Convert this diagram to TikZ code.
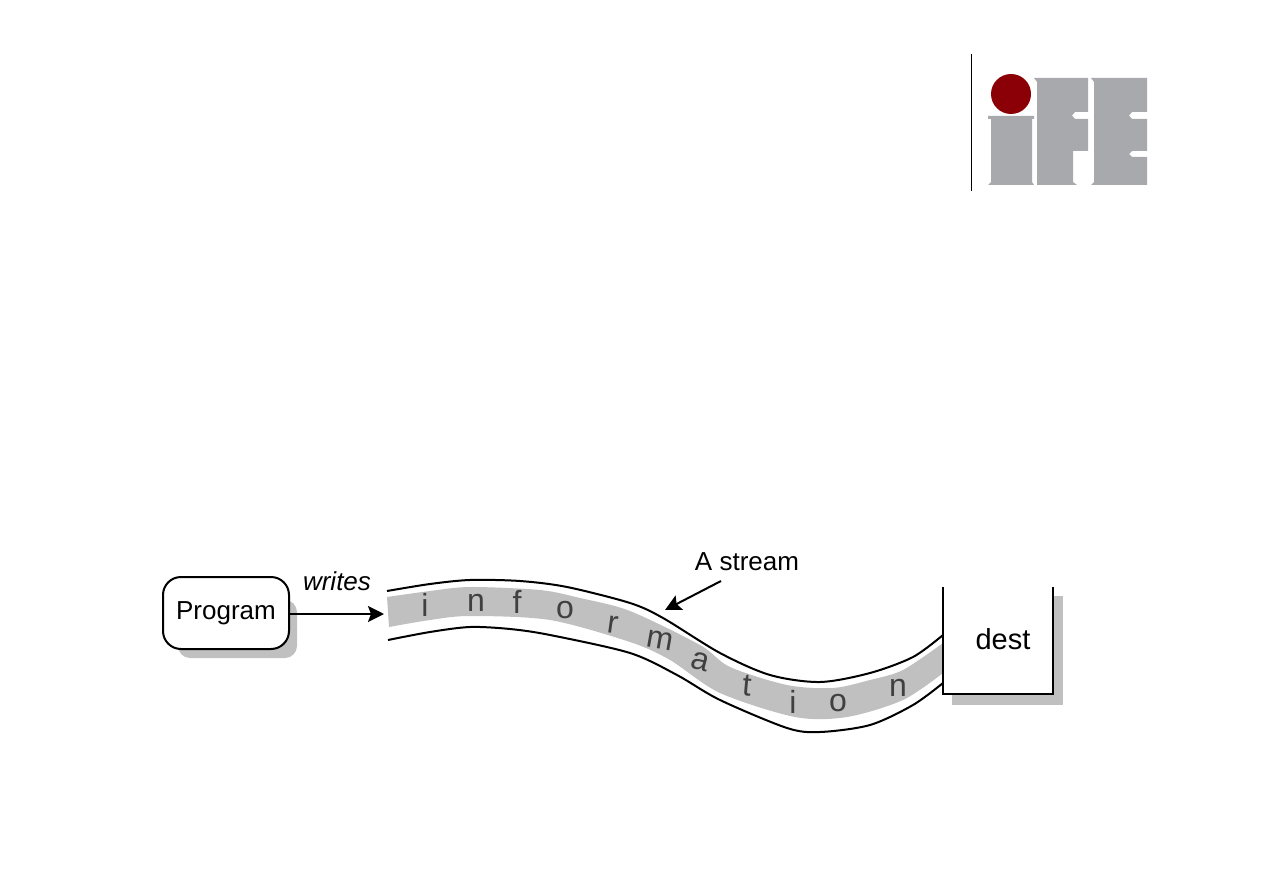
\documentclass[tikz,border=0pt]{standalone}
\usepackage{fontspec}
\setmainfont{Liberation Sans}
\usepackage{xcolor}
\usetikzlibrary{positioning}
\usetikzlibrary{arrows.meta,calc}

\definecolor{ombre}{RGB}{192,192,192}
\definecolor{logogris}{RGB}{167,169,172}
\definecolor{logorouge}{RGB}{139,0,6}

\begin{document}
\begin{tikzpicture} [
  x = 1pt, y = -1pt,
  auto,
  boite/.style = {draw=black,line width = 2pt,fill = white,rounded corners = 18pt,minimum width = 126pt,minimum height = 72pt,inner sep = 0pt},
  ombrage/.style = {fill = ombre,rounded corners = 12pt},
  texte/.style = {inner sep = 0pt,font = \fontsize{26}{26}\selectfont},
  lettre/.style = {inner sep = 0pt,text = black!75,font = \fontsize{32}{32}\selectfont},
  bord/.style = {draw,line width = 2pt},
  line/.style = {draw,line width = 2pt,-{Stealth[length = 16pt,width = 16pt,inset = 3pt]}},
  logo/.style = {fill = logogris},
]

 \useasboundingbox (0,0) rectangle (1263,893);

 % logo
 \draw [line width = 1pt] (971,54) -- (971,191);
 \fill [logo] (988,116) -- (1034,116) -- (1034,119) -- (1032,119) -- (1032,182) -- (1034,185) -- (988,185) -- (991,182) -- (991,119) -- (988,119) -- cycle;
 \fill [logo] (1034,78) -- (1088,78) -- (1088,112) -- (1075,112) -- (1072,115.5) -- (1075,119) -- (1088,119) -- (1088,151) -- (1073,151) -- (1073,182) -- (1077,185) -- (1037,185) -- (1037,82) -- cycle;
 \fill [logo] (1091,78) -- (1147,78) -- (1147,112) -- (1132,112) -- (1129,115.5) -- (1132,119) -- (1147,119) -- (1147,151) -- (1132,151) -- (1129,154) -- (1132,157) -- (1147,157) -- (1147,185) -- (1091,185) -- (1094,182) -- (1094,82) -- cycle;
 \node [circle,fill = logorouge,minimum size = 40pt,inner sep = 0pt] (point) at (1011,94) {};

 % ombres
 \fill [ombrage] (178,600) rectangle (297,658);
 \fill [ombre] (1053,596) rectangle (1063,705);
 \fill [ombre] (952,694) rectangle (1063,705);

 % le flux
 \fill [ombre] plot [smooth] coordinates {(387,597) (430,591) (470,587) (540,590) (580,598) (630,611) (700,645) (730,667) (787,685) (833,688) (870,680) (903,670) (943,643)}
   -- plot [smooth] coordinates {(943,673) (903,700) (847,717) (795,717) (720,693) (670,660) (630,642) (550,620) (470,616) (430,620) (389,627)} -- cycle;
 \draw [bord] plot [smooth] coordinates {(387,591) (430,584) (470,580) (520,581) (567,587) (630,603) (663,618) (720,653) (770,675) (820,682) (870,673) (913,657) (943,635)};
 \draw [bord] plot [smooth] coordinates {(388,640) (430,632) (470,627) (510,629) (550,635) (630,653) (677,675) (720,700) (787,728) (820,732) (870,725) (913,705) (943,683)};

 \node [lettre] (l1) at (425,605) {i};
 \node [lettre] (l2) at (476,603) {n};
 \node [lettre] (l3) at (517,602) {f};
 \node [lettre] (l4) at (565,610) {o};
 \node [lettre, rotate = -8] (l5) at (613,625) {r};
 \node [lettre, rotate = -10] (l6) at (660,640) {m};
 \node [lettre, rotate = -15] (l7) at (700,662) {a};
 \node [lettre, rotate = -5] (l8) at (747,686) {t};
 \node [lettre] (l9) at (793,702) {i};
 \node [lettre] (l10) at (838,703) {o};
 \node [lettre] (l11) at (898,688) {n};

 % boites
 \node [boite] (prog) at (226,613) {};
 \node [texte] (progtxt) at (226,613) {Program};
 \node [texte, font = \fontsize{26}{26}\selectfont\itshape] (ecrit) at (337,581) {writes};
 \coordinate (entree) at (384,614);
 \node [texte] (flux) at (747,562) {A stream};
 \coordinate (depart) at (721,581);
 \coordinate (cible) at (665,610);
 \node [texte, font = \fontsize{29}{29}\selectfont] (dest) at (1003,639) {dest};
 \draw [bord] (943,587) -- (943,693.5) -- (1053,693.5) -- (1053,587);

 \begin{scope}[every path/.style=line]
\path (prog.east |- entree) -- (entree) ;
\path (depart) -- (cible) ;
\end{scope}

\end{tikzpicture}
\end{document}
